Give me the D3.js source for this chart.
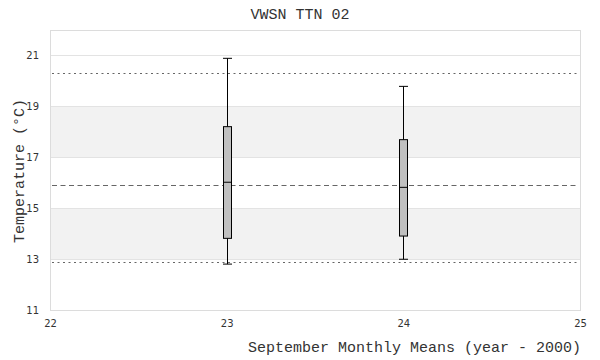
<!DOCTYPE html>
<html>
<head>
<meta charset="utf-8">
<script src="https://cdn.jsdelivr.net/npm/d3@7"></script>
<style>
  body { margin: 0; background: #fff; }
  text { fill: #333; }
</style>
</head>
<body>
<svg id="chart" width="600" height="360"></svg>
<script>
// box stats per September (year - 2000)
const years = [23, 24];
const whiskerHigh = [20.87, 19.77];
const q3 = [18.19, 17.68];
const median = [16.01, 15.81];
const q1 = [13.81, 13.90];
const whiskerLow = [12.80, 12.99];

// reference lines
const meanLine = 15.89;
const upperLine = 20.28;
const lowerLine = 12.89;

const xTicks = [22, 23, 24, 25];
const yTicks = [11, 13, 15, 17, 19, 21];
const bands = [[13, 15], [17, 19]];

const svg = d3.select("#chart");
const plotLeft = 50, plotRight = 580, plotTop = 29.5, plotBottom = 310;

const x = d3.scaleLinear().domain([22, 25]).range([plotLeft, plotRight]);
const y = d3.scaleLinear().domain([11, 22]).range([plotBottom, plotTop]);

// shaded bands
svg.append("g").selectAll("rect").data(bands).enter().append("rect")
    .attr("x", plotLeft).attr("width", plotRight - plotLeft)
    .attr("y", d => y(d[1])).attr("height", d => y(d[0]) - y(d[1]))
    .attr("fill", "#f2f2f2");

// grid lines
svg.append("g").selectAll("line").data(yTicks).enter().append("line")
    .attr("x1", plotLeft).attr("x2", plotRight)
    .attr("y1", d => Math.round(y(d)) + 0.5).attr("y2", d => Math.round(y(d)) + 0.5)
    .attr("stroke", "#e3e3e3");

// frame
svg.append("rect")
    .attr("x", plotLeft + 0.5).attr("y", Math.round(plotTop) + 0.5)
    .attr("width", plotRight - plotLeft).attr("height", plotBottom - Math.round(plotTop))
    .attr("fill", "none").attr("stroke", "#dcdcdc");

// reference lines
const refs = [
    {v: upperLine, dash: "2,3.5", end: plotRight},
    {v: meanLine, dash: "5,3.5", end: plotRight - 3},
    {v: lowerLine, dash: "2,3.5", end: plotRight}
];
svg.append("g").selectAll("line").data(refs).enter().append("line")
    .attr("x1", plotLeft + 2).attr("x2", d => d.end)
    .attr("y1", d => Math.round(y(d.v)) + 0.5).attr("y2", d => Math.round(y(d.v)) + 0.5)
    .attr("stroke", "#666").attr("stroke-width", 1)
    .attr("stroke-dasharray", d => d.dash);

// boxes
const boxes = years.map((yr, i) => ({
    yr: yr, hi: whiskerHigh[i], q3: q3[i], med: median[i], q1: q1[i], lo: whiskerLow[i]
}));
const bw = 8;
const g = svg.append("g").selectAll("g").data(boxes).enter().append("g");
g.append("line")
    .attr("x1", d => Math.round(x(d.yr)) + 0.5).attr("x2", d => Math.round(x(d.yr)) + 0.5)
    .attr("y1", d => y(d.hi)).attr("y2", d => y(d.lo))
    .attr("stroke", "#000");
g.append("line")
    .attr("x1", d => Math.round(x(d.yr)) - 4).attr("x2", d => Math.round(x(d.yr)) + 5)
    .attr("y1", d => y(d.hi)).attr("y2", d => y(d.hi))
    .attr("stroke", "#000");
g.append("line")
    .attr("x1", d => Math.round(x(d.yr)) - 4).attr("x2", d => Math.round(x(d.yr)) + 5)
    .attr("y1", d => y(d.lo)).attr("y2", d => y(d.lo))
    .attr("stroke", "#000");
g.append("rect")
    .attr("x", d => Math.round(x(d.yr)) - bw / 2 + 0.5).attr("width", bw)
    .attr("y", d => y(d.q3)).attr("height", d => y(d.q1) - y(d.q3))
    .attr("fill", "#c0c0c0").attr("stroke", "#000");
g.append("line")
    .attr("x1", d => Math.round(x(d.yr)) - bw / 2 + 0.5).attr("x2", d => Math.round(x(d.yr)) + bw / 2 + 0.5)
    .attr("y1", d => y(d.med)).attr("y2", d => y(d.med))
    .attr("stroke", "#000");

// axes
const yAxis = svg.append("g").attr("transform", `translate(${plotLeft},0)`)
    .call(d3.axisLeft(y).tickValues(yTicks).tickSize(0).tickPadding(11));
const xAxis = svg.append("g").attr("transform", `translate(0,${plotBottom})`)
    .call(d3.axisBottom(x).tickValues(xTicks).tickSize(0).tickPadding(10).tickFormat(d3.format("d")));
[yAxis, xAxis].forEach(a => {
    a.select(".domain").remove();
    a.selectAll("text").attr("font-family", "DejaVu Sans").attr("font-size", 10).attr("fill", "#444");
});

// titles
svg.append("text").attr("x", 300).attr("y", 19).attr("text-anchor", "middle")
    .attr("font-family", "Liberation Mono").attr("font-size", 15)
    .text("VWSN TTN 02");
svg.append("text").attr("transform", "translate(24,171) rotate(-90)").attr("text-anchor", "middle")
    .attr("font-family", "Liberation Mono").attr("font-size", 15)
    .text("Temperature (°C)");
svg.append("text").attr("x", 581).attr("y", 352).attr("text-anchor", "end")
    .attr("font-family", "Liberation Mono").attr("font-size", 15)
    .text("September Monthly Means (year - 2000)");
</script>
</body>
</html>
